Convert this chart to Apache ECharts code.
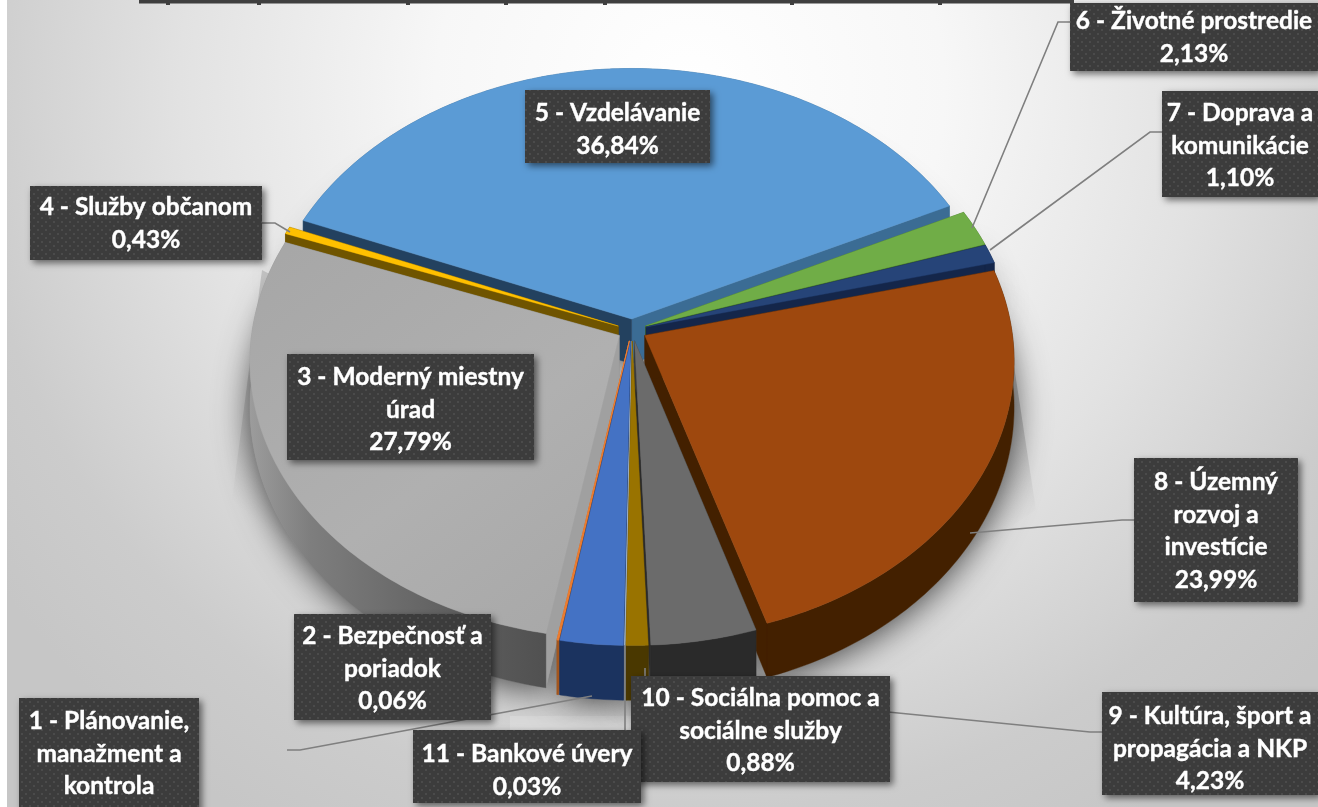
<!DOCTYPE html>
<html><head><meta charset="utf-8">
<style>html,body{margin:0;padding:0;background:#fff;overflow:hidden}#c{width:1318px;height:807px}</style>
<script src="https://cdn.jsdelivr.net/npm/echarts@6/dist/echarts.min.js"></script>
</head><body><div id="c"></div>
<script>
// ---- data ----
const categories = ['1 - Plánovanie, manažment a kontrola','2 - Bezpečnosť a poriadok','3 - Moderný miestny úrad','4 - Služby občanom','5 - Vzdelávanie','6 - Životné prostredie','7 - Doprava a komunikácie','8 - Územný rozvoj a investície','9 - Kultúra, šport a propagácia a NKP','10 - Sociálna pomoc a sociálne služby','11 - Bankové úvery'];
const shares = [2.52,0.06,27.79,0.43,36.84,2.13,1.10,23.99,4.23,0.88,0.03];
const labelLines = [
 ['1 - Plánovanie,','manažment a','kontrola'],
 ['2 - Bezpečnosť a','poriadok','0,06%'],
 ['3 - Moderný miestny','úrad','27,79%'],
 ['4 - Služby občanom','0,43%'],
 ['5 - Vzdelávanie','36,84%'],
 ['6 - Životné prostredie','2,13%'],
 ['7 - Doprava a','komunikácie','1,10%'],
 ['8 - Územný','rozvoj a','investície','23,99%'],
 ['9 - Kultúra, šport a','propagácia a NKP','4,23%'],
 ['10 - Sociálna pomoc a','sociálne služby','0,88%'],
 ['11 - Bankové úvery','0,03%']];
// ---- styling / layout ----
const topColors  = ['#4472c4','#ed7d31','#a8a8a8','#ffc000','#5b9bd5','#70ad47','#264478','#9e480e','#6b6b6b','#997300','#9fb4cc'];
const wallColors = ['#1b335f','#a3561f','#666666','#6f5400','#3b6c94','#3f6b25','#14264a','#432000','#2a2a2a','#4a3800','#7f8fa6'];
const faceStart  = ['#1b335f','#a3561f','#a0a0a0','#6f5400','#23415f','#3f6b25','#14264a','#432000','#3a3a3a','#4a3800','#7f8fa6'];
const faceEnd    = ['#1b335f','#a3561f','#8a8a8a','#6f5400','#3b6c94','#3f6b25','#14264a','#432000','#2a2a2a','#4a3800','#7f8fa6'];
const paintOrder = [8,7,4,2,0,1,3,5,6,10,9];
const boxes = [[19,698,180,115],[294,614,197,106],[287,354,247,106],[30,186,232,74],[525,90,185,73],[1070,3,248,68],[1162,91,156,106],[1134,458,164,144],[1102,692,216,103],[631,676,259,106],[413,730,228,73]];
const lineTops = [721,636,377,207,113,21,113,482,716,698,754];
const leaders = [[[287,750],[300,750],[592,696]],null,null,[[262,223],[275,223],[290,232]],null,[[1070,22],[1058,22],[972,228]],[[1162,132],[1150,132],[990,250]],[[1134,520],[1122,520],[970,533]],[[1102,732],[1090,732],[888,712]],[[645,676],[645,668]],[[625,730],[625,645]]];
const GEO = {cx:632, cy:330, rx:367, ry:275, k:0.09, h:45, explode:0.04, start:181};

const tile = document.createElement('canvas'); tile.width = tile.height = 8;
(function(){const g=tile.getContext('2d');g.fillStyle='#3c3c3c';g.fillRect(0,0,8,8);g.fillStyle='#4b4b4b';g.fillRect(1,1,2,2);g.fillRect(5,5,2,2);})();

const total = shares.reduce((a,b)=>a+b,0);
const cum = []; shares.reduce((a,b,i)=>(cum[i]=a,a+b),0);

function proj(u,v,z){const p=1/(1-GEO.k*v);return [GEO.cx+GEO.rx*u*p, GEO.cy+GEO.ry*v*p+GEO.h*z*p*p];}
function sliceShapes(i,val){
  const a0=GEO.start+cum[i]/total*360, a1=a0+val/total*360, mid=(a0+a1)/2*Math.PI/180;
  const ox=GEO.explode*Math.sin(mid), oy=-GEO.explode*Math.cos(mid);
  const pt=(deg,r,z)=>{const t=deg*Math.PI/180;return proj(ox+r*Math.sin(t),oy-r*Math.cos(t),z);};
  const rimT=[],rimB=[];const n=Math.max(2,Math.ceil(a1-a0));
  for(let j=0;j<=n;j++){const d=a0+(a1-a0)*j/n;rimT.push(pt(d,1,0));rimB.push(pt(d,1,1));}
  return {apexT:pt(0,0,0),apexB:pt(0,0,1),rimT,rimB};
}
const wallFill = i => i===2 ? {type:'linear',x:250,y:0,x2:550,y2:0,global:true,colorStops:[{offset:0,color:'#9c9c9c'},{offset:.2,color:'#7e7e7e'},{offset:.7,color:'#5e5e5e'},{offset:1,color:'#505050'}]} : wallColors[i];
const topFill = i => i===2 ? {type:'linear',x:250,y:240,x2:550,y2:640,global:true,colorStops:[{offset:0,color:'#a6a6a6'},{offset:.6,color:'#b0b0b0'},{offset:1,color:'#a8a8a8'}]} : topColors[i];

function renderSlice(params,api){
  const i=params.dataIndex, s=sliceShapes(i,api.value(0)), z=paintOrder[i]*10;
  const poly=(pts,fill,dz,stroke)=>({type:'polygon',z2:z+dz,silent:true,shape:{points:pts},style:{fill,stroke:stroke||fill,lineWidth:stroke?1:0.4}});
  const n=s.rimT.length-1;
  const halo={type:'polygon',z2:-100,silent:true,shape:{points:[s.apexB].concat(s.rimB)},style:{fill:'#999',shadowBlur:34,shadowOffsetY:4,shadowColor:'rgba(0,0,0,.7)'}};
  const wallDz = i===4 ? 0 : 2.5;
  return {type:'group',children:[
    halo,
    poly(s.rimT.concat(s.rimB.slice().reverse()),wallFill(i),wallDz),
    poly([s.apexT,s.rimT[n],s.rimB[n],s.apexB],faceEnd[i],1),
    poly([s.apexT,s.rimT[0],s.rimB[0],s.apexB],faceStart[i],2),
    poly([s.apexT].concat(s.rimT),topFill(i),3,(shares[i]<0.2)?topColors[i]:null)
  ]};
}
function renderLabel(params,api){
  const i=params.dataIndex,b=boxes[i],z=1000+i*10,ch=[];
  if(leaders[i])ch.push({type:'polyline',z2:z-500,silent:true,shape:{points:leaders[i]},style:{fill:'none',stroke:'#7f7f7f',lineWidth:1.6}});
  ch.push({type:'rect',z2:z,silent:true,shape:{x:b[0],y:b[1],width:b[2],height:b[3]},style:{fill:{image:tile,repeat:'repeat'},shadowBlur:7,shadowOffsetX:3,shadowOffsetY:3,shadowColor:'rgba(0,0,0,.55)'}});
  labelLines[i].forEach((t,j)=>ch.push({type:'text',z2:z+1,silent:true,style:{x:b[0]+b[2]/2,y:lineTops[i]+j*32.7,text:t,fill:'#fff',stroke:'#fff',lineWidth:.4,align:'center',verticalAlign:'middle',font:'bold 24.5px Lato, "Noto Sans", sans-serif'}}));
  return {type:'group',children:ch};
}
const chart = echarts.init(document.getElementById('c'),null,{renderer:'canvas',width:1318,height:807});
const ticks=[168,259,408,506,605,792,940];
const fade=(x,y,x2,y2,a)=>({type:'linear',x,y,x2,y2,global:true,colorStops:[{offset:0,color:'rgba(0,0,0,'+a+')'},{offset:1,color:'rgba(0,0,0,0)'}]});
chart.setOption({
  animation:false,
  backgroundColor:'#ffffff',
  graphic:{elements:[
    {type:'rect',z:-10,silent:true,shape:{x:7,y:0,width:1311,height:807},style:{fill:{type:'radial',x:690,y:90,r:850,global:true,colorStops:[{offset:0,color:'#ffffff'},{offset:.3,color:'#f7f7f7'},{offset:.6,color:'#e2e2e2'},{offset:.85,color:'#cccccc'},{offset:1,color:'#c6c6c6'}]}}},
    {type:'polygon',z:-9,silent:true,shape:{points:[[262,270],[232,500],[300,560],[320,300]]},style:{fill:fade(300,420,235,505,.14)}},
    {type:'polygon',z:-9,silent:true,shape:{points:[[1010,340],[1036,510],[960,560],[960,380]]},style:{fill:fade(980,430,1036,515,.2)}},
    {type:'rect',z:-8,silent:true,shape:{x:510,y:716,width:125,height:20},style:{fill:'rgba(255,255,255,.18)'}},
    {type:'rect',z:50,silent:true,shape:{x:139,y:0,width:935,height:3.5},style:{fill:'#3f3f3f'}},
    ...ticks.map(x=>({type:'rect',z:50,silent:true,shape:{x:x-2,y:3,width:4,height:2},style:{fill:'#3f3f3f'}}))
  ]},
  series:[
    {type:'custom',name:'Podiel',coordinateSystem:'none',z:2,renderItem:renderSlice,clip:false,silent:true,
     data:shares.map((v,i)=>({name:categories[i],value:[v]}))},
    {type:'custom',name:'Popisky',coordinateSystem:'none',z:3,renderItem:renderLabel,clip:false,silent:true,
     data:shares.map((v,i)=>({name:categories[i],value:[v]}))}
  ]
});
</script></body></html>
